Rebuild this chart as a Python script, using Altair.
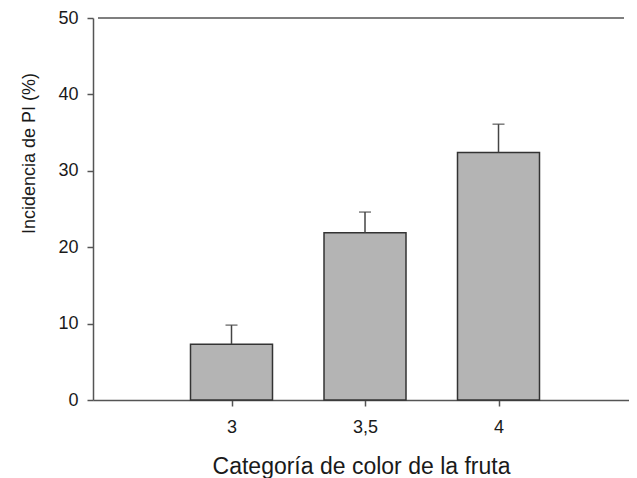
import altair as alt
import pandas as pd

categories = [3, 3.5, 4]
incidence = [7.3, 21.9, 32.4]
error_upper = [9.8, 24.6, 36.1]
y_ticks = [0, 10, 20, 30, 40, 50]

df = pd.DataFrame({"cat": categories, "mean": incidence, "upper": error_upper})

FONT = "Liberation Sans"
xscale = alt.Scale(domain=[2.5, 4.47], nice=False, zero=False)
yscale = alt.Scale(domain=[0, 50], nice=False)

base = alt.Chart(df)

bars = base.mark_bar(size=82, color="#b4b4b4", stroke="#333333", strokeWidth=1.5).encode(
    x=alt.X("cat:Q", scale=xscale,
            axis=alt.Axis(values=categories, title="Categoría de color de la fruta",
                          labelExpr="replace(format(datum.value, '~g'), '.', ',')",
                          grid=False, tickSize=6, tickColor="#555555", tickWidth=1.5,
                          domainColor="#555555", domainWidth=1.5,
                          labelFont=FONT, labelFontSize=18, labelColor="#1a1a1a",
                          labelPadding=12, titleFont=FONT, titleFontSize=23,
                          titleFontWeight="normal", titleColor="#1a1a1a", titlePadding=19)),
    y=alt.Y("mean:Q", scale=yscale,
            axis=alt.Axis(values=y_ticks, title="Incidencia de PI (%)", grid=False,
                          tickSize=6, tickColor="#555555", tickWidth=1.5,
                          domainColor="#555555", domainWidth=1.5,
                          labelFont=FONT, labelFontSize=18, labelColor="#1a1a1a",
                          labelPadding=9, titleFont=FONT, titleFontSize=18,
                          titleFontWeight="normal", titleColor="#1a1a1a", titlePadding=19,
                          titleY=135)),
)

err = base.mark_rule(color="#444444", strokeWidth=1.5).encode(
    x="cat:Q", y="mean:Q", y2="upper:Q"
)
caps = base.mark_tick(orient="horizontal", size=12, thickness=1.5, color="#444444").encode(
    x="cat:Q", y="upper:Q"
)
top = alt.Chart(pd.DataFrame({"a": [2.5], "b": [4.47], "y": [50]})).mark_rule(
    color="#555555", strokeWidth=1.5
).encode(x="a:Q", x2="b:Q", y="y:Q")

chart = alt.layer(bars, err, caps, top).properties(
    width=536, height=382,
    autosize=alt.AutoSizeParams(type="none"),
    padding={"left": 85, "top": 10, "right": 0, "bottom": 78},
).configure_view(stroke=None)

chart.save("out.html", embed_options={"renderer": "svg", "actions": False})
